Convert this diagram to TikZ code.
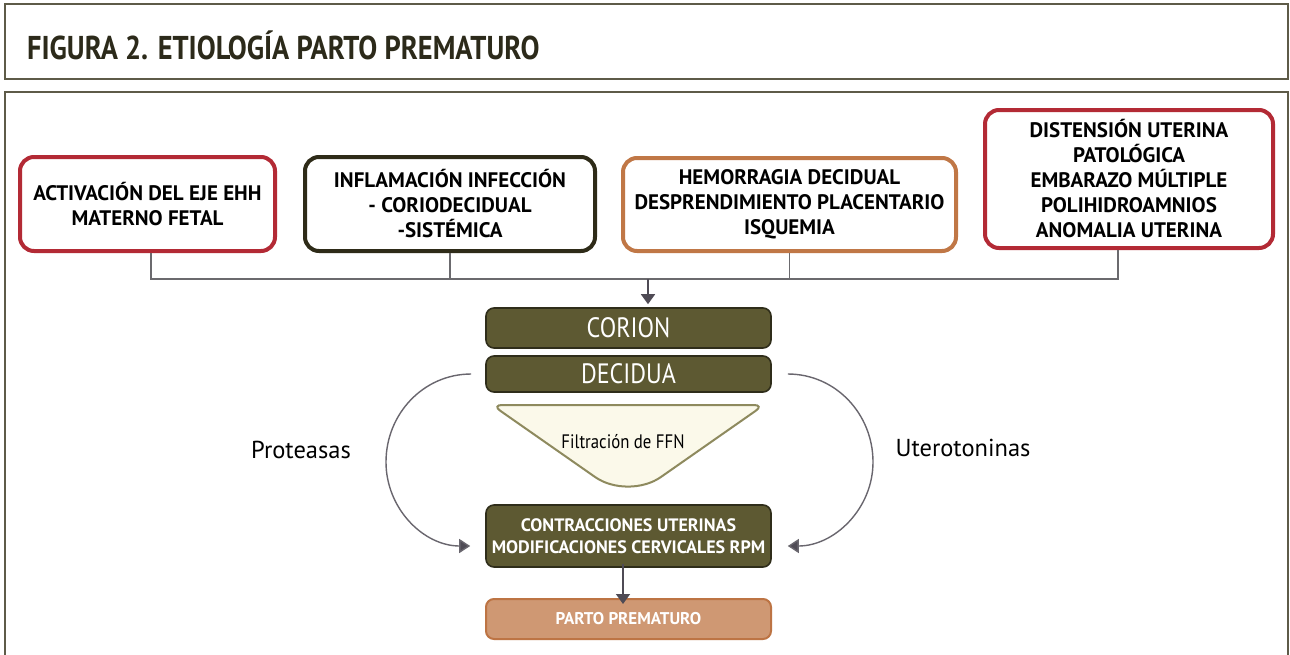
\documentclass[tikz,border=0pt]{standalone}
\usepackage{fontspec}
\setmainfont{PT Sans}
\newfontfamily\condf{PT Sans}[FakeStretch=0.86]
\usetikzlibrary{arrows.meta}
\definecolor{framec}{HTML}{5E5B48}
\definecolor{redc}{HTML}{B32A35}
\definecolor{darkc}{HTML}{2E2B18}
\definecolor{orangec}{HTML}{C07746}
\definecolor{olivec}{HTML}{5D5932}
\definecolor{olivebd}{HTML}{2F2D1A}
\definecolor{linec}{HTML}{6B6A6E}
\definecolor{arrc}{HTML}{4F4B55}
\definecolor{partoc}{HTML}{CF9873}
\definecolor{partobd}{HTML}{BD7444}
\definecolor{funfill}{HTML}{FBF9EA}
\definecolor{funbd}{HTML}{8E8A5E}
\definecolor{titlec}{HTML}{2C2A1A}
\tikzset{
  topbox/.style={draw, line width=4pt, rounded corners=14pt, fill=white, align=center,
    font=\fontsize{21}{25}\selectfont\bfseries, text=black, inner sep=0pt},
  olivebox/.style={draw=olivebd, line width=1.6pt, fill=olivec, rounded corners=8pt,
    minimum width=285pt, text=white, align=center, inner sep=0pt},
  conn/.style={draw=linec, line width=1.6pt},
  arr/.style={draw=arrc, line width=1.6pt, -{Triangle[width=14pt,length=10pt,fill=arrc]}},
  curvarr/.style={draw=arrc!85!white, line width=1.4pt, -{Triangle[width=14pt,length=11pt,fill=arrc]}},
  lbl/.style={font=\fontsize{24.5}{28}\selectfont, text=black},
}
\begin{document}
\begin{tikzpicture}[x=1pt,y=-1pt]
\useasboundingbox (0,0) rectangle (1290,654);
\fill[white] (0,0) rectangle (1290,654);
% frames
\draw[framec, line width=2pt] (5,4) rectangle (1288,79);
\draw[framec, line width=2pt] (5,660) -- (5,92) -- (1288,92) -- (1288,660);
\node[anchor=west, font=\condf\fontsize{33}{36}\selectfont\bfseries, text=titlec, inner sep=0pt] (title) at (27,45) {FIGURA 2. ETIOLOGÍA PARTO PREMATURO};
% top boxes
\node[topbox, draw=redc, minimum width=255pt, minimum height=94pt] (b1) at (147.5,204) {ACTIVACIÓN DEL EJE EHH\\MATERNO FETAL};
\node[topbox, draw=darkc, minimum width=290pt, minimum height=94pt] (b2) at (450,204) {INFLAMACIÓN INFECCIÓN\\- CORIODECIDUAL\\-SISTÉMICA};
\node[topbox, draw=orangec, minimum width=333pt, minimum height=93pt] (b3) at (789.5,204.5) {HEMORRAGIA DECIDUAL\\DESPRENDIMIENTO PLACENTARIO\\ISQUEMIA};
\node[topbox, draw=redc, minimum width=288pt, minimum height=138pt] (b4) at (1129,179) {DISTENSIÓN UTERINA\\PATOLÓGICA\\EMBARAZO MÚLTIPLE\\POLIHIDROAMNIOS\\ANOMALIA UTERINA};
% connectors
\coordinate (hl) at (151,279);
\coordinate (hr) at (1118,279);
\coordinate (j) at (648,279);
\draw[conn] (b1.south -| hl) -- (hl) -- (hr) -- (b4.south -| hr);
\draw[conn] (b2.south) -- (b2.south |- hl);
\draw[conn] (b3.south) -- (b3.south |- hl);
% center column
\node[olivebox, minimum height=40pt, font=\condf\fontsize{28}{30}\selectfont] (corion) at (628.5,328) {CORION};
\node[olivebox, minimum height=36pt, font=\condf\fontsize{28}{30}\selectfont] (decidua) at (628.5,374) {DECIDUA};
\draw[arr, shorten >=3pt] (j) -- (j |- corion.north);
\draw[draw=funbd, fill=funfill, line width=2pt] (628,405) [rounded corners=10pt] -- (764,405) [rounded corners=40pt] -- (628,500) [rounded corners=10pt] -- (492,405) -- cycle;
\node[font=\condf\fontsize{19.5}{22}\selectfont, text=black] (ffn) at (623,442) {Filtración de FFN};
\node[olivebox, minimum height=62pt, font=\fontsize{18}{22}\selectfont\bfseries] (contr) at (628.5,536) {CONTRACCIONES UTERINAS\\MODIFICACIONES CERVICALES RPM};
\node[draw=partobd, fill=partoc, line width=2pt, rounded corners=8pt, minimum width=285pt, minimum height=40pt, text=white, font=\fontsize{17}{20}\selectfont\bfseries, inner sep=0pt] (parto) at (628.5,619) {PARTO PREMATURO};
\draw[arr] ([xshift=-5.5pt,yshift=4pt]contr.south) -- ([xshift=-5.5pt,yshift=-6pt]parto.north);
% curved arrows
\draw[curvarr] ([xshift=-14pt]decidua.west) to[out=180,in=90] (386,462) to[out=-90,in=180] ([xshift=-15pt,yshift=-10pt]contr.west);
\draw[curvarr] ([xshift=16pt]decidua.east) to[out=0,in=90] (873,462) to[out=-90,in=0] ([xshift=16pt,yshift=-10pt]contr.east);
\node[lbl] (prot) at (301,450) {Proteasas};
\node[lbl] (utero) at (963,448) {Uterotoninas};
\end{tikzpicture}
\end{document}
